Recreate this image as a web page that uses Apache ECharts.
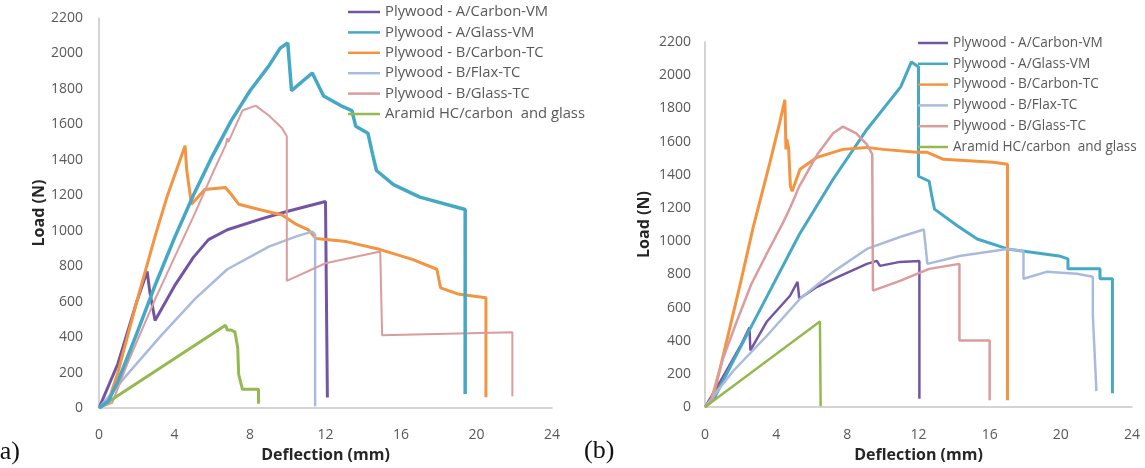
<!DOCTYPE html>
<html>
<head>
<meta charset="utf-8">
<script src="https://cdn.jsdelivr.net/npm/echarts@6/dist/echarts.min.js"></script>
<style>
  html, body { margin: 0; padding: 0; background: #fff; }
  #main { width: 1145px; height: 468px; }
</style>
</head>
<body>
<div id="main"></div>
<script>
// series names (same order in both panels)
var seriesNames = [
  'Plywood - A/Carbon-VM',
  'Plywood - A/Glass-VM',
  'Plywood - B/Carbon-TC',
  'Plywood - B/Flax-TC',
  'Plywood - B/Glass-TC',
  'Aramid HC/carbon  and glass'
]
var seriesColors = ['#7455a3', '#45a8c4', '#f39441', '#a9bbdd', '#da9c9c', '#94b94f']

// axis ticks
var xTicks = { min: 0, max: 24, interval: 4 }
var yTicks = { min: 0, max: 2200, interval: 200 }

// panel (a) : [deflection mm, load N]
var a_carbonVM = [[0, 0], [1, 250], [2, 600], [2.55, 770], [2.7, 650], [2.97, 494], [4, 689], [5, 850], [5.8, 950], [6.8, 1006], [8.6, 1067], [10, 1110], [12, 1165], [12.1, 1172], [12.1, 60]]
var a_glassVM = [[0, 0], [0.5, 40], [1, 150], [2, 420], [3, 700], [4, 960], [5, 1200], [6, 1420], [7, 1620], [8, 1790], [9, 1930], [9.6, 2030], [10, 2060], [10.2, 1790], [11.3, 1890], [11.9, 1760], [12.8, 1706], [13.4, 1678], [13.6, 1590], [14.25, 1550], [14.5, 1430], [14.7, 1340], [15.6, 1260], [17, 1190], [19.4, 1120], [19.4, 80]]
var a_carbonTC = [[0, 0], [0.5, 40], [1, 200], [2, 600], [3, 980], [3.6, 1190], [4.56, 1480], [4.65, 1340], [4.75, 1340], [4.9, 1150], [5.6, 1233], [6.7, 1244], [7, 1206], [7.4, 1150], [8.6, 1117], [9.7, 1089], [10.4, 1039], [11.1, 1005], [11.5, 956], [13.1, 939], [14.9, 894], [16.6, 839], [17.9, 783], [18.1, 678], [19, 644], [20.5, 622], [20.5, 61]]
var a_flaxTC = [[0, 0], [1.5, 190], [3.3, 410], [5.1, 617], [6.8, 783], [9, 911], [10.5, 970], [11.3, 995], [11.45, 980], [11.45, 10]]
var a_glassTC = [[0, 0], [0.7, 30], [1.5, 250], [3, 620], [4, 850], [5, 1080], [6, 1320], [6.7, 1480], [6.8, 1522], [6.85, 1500], [7.6, 1678], [8.3, 1706], [9, 1650], [9.7, 1578], [9.95, 1533], [9.95, 717], [12, 817], [14.9, 883], [15, 411], [21.9, 428], [21.9, 67]]
var a_aramid = [[0, 0], [6.7, 467], [6.8, 440], [7, 440], [7.2, 430], [7.3, 370], [7.35, 340], [7.4, 190], [7.6, 106], [8.45, 106], [8.45, 25]]

// panel (b)
var b_carbonVM = [[0, 0], [1, 180], [2, 370], [2.5, 480], [2.55, 342], [3.48, 516], [4.78, 671], [5.2, 755], [5.3, 653], [6.3, 725], [7.6, 791], [9.1, 863], [9.66, 881], [9.83, 851], [10.96, 875], [12.05, 881], [12.05, 50]]
var b_glassVM = [[0, 0], [0.5, 50], [1.5, 260], [3.5, 670], [5.3, 1040], [7.2, 1373], [9.1, 1673], [11, 1930], [11.6, 2080], [12, 2050], [12, 1391], [12.6, 1361], [12.75, 1271], [12.9, 1193], [14.2, 1091], [15.3, 1013], [17, 953], [19.9, 911], [20.4, 893], [20.4, 833], [22.2, 833], [22.2, 773], [22.9, 773], [22.9, 84]]
var b_carbonTC = [[0, 0], [0.4, 40], [1, 300], [2, 750], [2.7, 1080], [3.65, 1475], [4.2, 1715], [4.49, 1852], [4.55, 1553], [4.6, 1613], [4.7, 1560], [4.8, 1331], [4.9, 1301], [5.34, 1433], [6.3, 1505], [7.75, 1553], [9.1, 1565], [10, 1553], [11.9, 1535], [12.5, 1535], [13.4, 1493], [16.2, 1475], [17, 1463], [17, 42]]
var b_flaxTC = [[0, 0], [1.57, 216], [3.48, 430], [5.34, 653], [7.2, 815], [9.1, 953], [10.96, 1025], [12.3, 1070], [12.5, 863], [14.3, 911], [17, 953], [17.9, 941], [17.9, 773], [19.2, 815], [20.9, 803], [21.8, 785], [21.8, 552], [22, 96]]
var b_glassTC = [[0, 0], [0.3, 30], [1, 290], [1.8, 520], [2.6, 740], [3.5, 930], [4.38, 1110], [4.78, 1200], [5.3, 1330], [6.3, 1520], [7.2, 1650], [7.75, 1690], [8.5, 1650], [9.1, 1583], [9.4, 1523], [9.44, 702], [10.96, 761], [12.6, 833], [14.3, 863], [14.3, 402], [16, 402], [16, 42]]
var b_aramid = [[0, 0], [6.46, 516], [6.5, 510], [6.5, 5]]

var panelA = [a_carbonVM, a_glassVM, a_carbonTC, a_flaxTC, a_glassTC, a_aramid]
var panelB = [b_carbonVM, b_glassVM, b_carbonTC, b_flaxTC, b_glassTC, b_aramid]
var widthsA = [3, 3.5, 3, 2.5, 2, 3]
var widthsB = [2.5, 3, 3, 2.5, 2.5, 2.5]

var font = '"Open Sans", sans-serif'

function makeAxes (idx, gap) {
  return {
    x: {
      type: 'value', gridIndex: idx, min: xTicks.min, max: xTicks.max, interval: xTicks.interval,
      name: 'Deflection (mm)', nameLocation: 'middle', nameGap: gap.xName,
      nameTextStyle: { fontFamily: font, fontSize: 16, fontWeight: 'bold', color: '#262626' },
      axisLine: { show: true, lineStyle: { color: '#c6c6c6', width: 1.5 } },
      axisTick: { show: false },
      splitLine: { show: false },
      axisLabel: { margin: gap.xLabel, fontFamily: font, fontSize: 14, color: '#595959' }
    },
    y: {
      type: 'value', gridIndex: idx, min: yTicks.min, max: yTicks.max, interval: yTicks.interval,
      name: 'Load (N)', nameLocation: 'middle', nameGap: gap.yName, nameRotate: 90,
      nameTextStyle: { fontFamily: font, fontSize: 16, fontWeight: 'bold', color: '#262626' },
      axisLine: { show: true, lineStyle: { color: '#c6c6c6', width: 1.5 } },
      axisTick: { show: false },
      splitLine: { show: false },
      axisLabel: {
        margin: gap.yLabel, fontFamily: font, fontSize: 14, color: '#595959',
        formatter: function (v) { return String(v) }
      }
    }
  }
}

var axA = makeAxes(0, { xName: 33, xLabel: 20, yName: 52, yLabel: 16 })
var axB = makeAxes(1, { xName: 39, xLabel: 21, yName: 53, yLabel: 14 })

var series = []
panelA.forEach(function (d, i) {
  series.push({
    name: seriesNames[i], type: 'line', xAxisIndex: 0, yAxisIndex: 0, data: d,
    symbol: 'none', z: i === 1 ? 3 : 2,
    lineStyle: { color: seriesColors[i], width: widthsA[i] }, itemStyle: { color: seriesColors[i] }
  })
})
panelB.forEach(function (d, i) {
  series.push({
    name: seriesNames[i], type: 'line', xAxisIndex: 1, yAxisIndex: 1, data: d,
    symbol: 'none',
    lineStyle: { color: seriesColors[i], width: widthsB[i] }, itemStyle: { color: seriesColors[i] }
  })
})

var chart = echarts.init(document.getElementById('main'))
chart.setOption({
  backgroundColor: '#fff',
  animation: false,
  grid: [
    { left: 99, top: 18, width: 453, height: 396 },
    { left: 705, top: 42, width: 427, height: 367 }
  ],
  xAxis: [axA.x, axB.x],
  yAxis: [axA.y, axB.y],
  legend: [
    {
      data: seriesNames, orient: 'vertical', left: 343, top: -3, icon: 'rect', itemWidth: 32, itemHeight: 2.5, itemGap: 0.4,
      selectedMode: false,
      textStyle: { fontFamily: font, fontSize: 14.8, lineHeight: 20, color: '#595959' }
    },
    {
      data: seriesNames, orient: 'vertical', left: 913, top: 28, icon: 'rect', itemWidth: 30, itemHeight: 2.5, itemGap: 0.8,
      selectedMode: false,
      textStyle: { fontFamily: font, fontSize: 13.6, lineHeight: 20, color: '#595959' }
    }
  ],
  graphic: [
    { type: 'text', left: -9, top: 439, style: { text: '(a)', font: '26px "Liberation Serif", serif', fill: '#111' } },
    { type: 'text', left: 584, top: 438, style: { text: '(b)', font: '26px "Liberation Serif", serif', fill: '#111' } }
  ],
  series: series
})
</script>
</body>
</html>
